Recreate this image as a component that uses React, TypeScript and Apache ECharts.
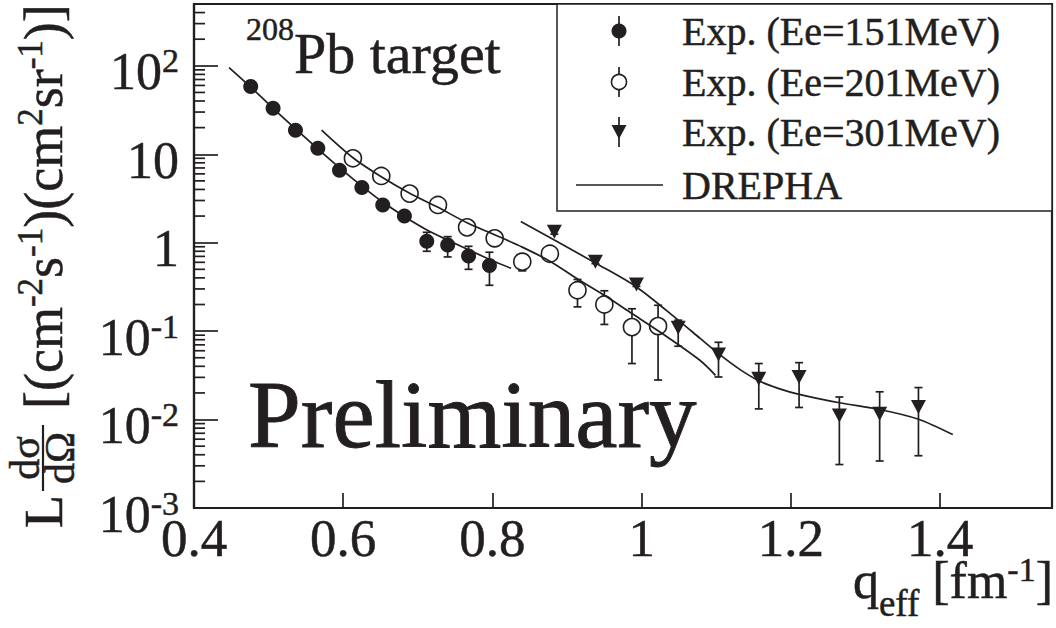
import React, { useEffect, useRef } from 'react';
import * as echarts from 'echarts';

const INK = '#231f20';
const FONT = '"Liberation Serif", "DejaVu Serif", serif';
// text outline used to thicken glyphs (axis labels use ECharts label names, graphics use zrender names)
const BOLDEN = { textBorderColor: INK, textBorderWidth: 0.5 };
const GBOLD = { stroke: INK, lineWidth: 0.5 };

// axes
const X_MIN = 0.4;
const X_MAX = 1.55;
const X_STEP = 0.2;
const Y_MIN = 0.001;
const Y_MAX = 500;
const MINOR_MULT = [2, 3, 4, 5, 6, 7, 8, 9];
const MINOR_DECADES = [0.001, 0.01, 0.1, 1, 10, 100];

// Exp. Ee=151 MeV
const q151 = [0.476, 0.506, 0.536, 0.566, 0.595, 0.625, 0.653, 0.682, 0.712, 0.740, 0.768, 0.796];
const v151 = [58.5, 33.2, 18.7, 11.7, 6.6, 4.2, 2.67, 2.0, 1.04, 0.94, 0.705, 0.553];
const lo151 = [56, 31.8, 17.9, 11.2, 6.3, 4.0, 2.55, 1.9, 0.80, 0.69, 0.50, 0.33];
const hi151 = [61, 34.6, 19.5, 12.2, 6.9, 4.4, 2.8, 2.1, 1.31, 1.17, 0.91, 0.78];

// Exp. Ee=201 MeV
const q201 = [0.613, 0.651, 0.689, 0.727, 0.766, 0.803, 0.840, 0.877, 0.914, 0.950, 0.987, 1.022];
const v201 = [9.0, 5.68, 3.59, 2.67, 1.49, 1.12, 0.61, 0.75, 0.29, 0.20, 0.111, 0.114];
const lo201 = [8.6, 5.4, 3.4, 2.55, 1.42, 1.06, 0.48, 0.66, 0.188, 0.119, 0.043, 0.028];
const hi201 = [9.4, 5.95, 3.75, 2.8, 1.56, 1.18, 0.73, 0.84, 0.384, 0.286, 0.179, 0.196];

// Exp. Ee=301 MeV
const q301 = [0.883, 0.938, 0.993, 1.049, 1.103, 1.157, 1.211, 1.265, 1.319, 1.371];
const v301 = [1.33, 0.61, 0.337, 0.109, 0.0543, 0.029, 0.0303, 0.0111, 0.0116, 0.0139];
const lo301 = [1.25, 0.58, 0.32, 0.0675, 0.0303, 0.0132, 0.0137, 0.0031, 0.0034, 0.0039];
const hi301 = [1.42, 0.65, 0.355, 0.133, 0.0748, 0.043, 0.044, 0.018, 0.0206, 0.023];

// DREPHA calculations
const tq151 = [0.447, 0.476, 0.506, 0.537, 0.566, 0.596, 0.625, 0.653, 0.683, 0.711, 0.742, 0.773, 0.802, 0.825];
const tv151 = [95.5, 57.5, 33.1, 19.1, 11.5, 6.92, 4.37, 2.88, 1.95, 1.41, 1.05, 0.794, 0.617, 0.513];
const tq201 = [0.571, 0.613, 0.651, 0.689, 0.727, 0.766, 0.803, 0.840, 0.877, 0.914, 0.950, 0.987, 1.022, 1.078, 1.099];
const tv201 = [18.7, 9.12, 5.56, 3.63, 2.51, 1.68, 1.23, 0.891, 0.617, 0.389, 0.254, 0.158, 0.101, 0.0468, 0.0316];
const tq301 = [0.838, 0.883, 0.938, 0.993, 1.051, 1.078, 1.103, 1.131, 1.157, 1.184, 1.211, 1.265, 1.319, 1.371, 1.417];
const tv301 = [1.74, 1.07, 0.589, 0.316, 0.129, 0.0832, 0.0556, 0.0372, 0.0275, 0.0224, 0.0193, 0.0155, 0.0130, 0.0101, 0.00676];

const LEGEND = ['Exp. (Ee=151MeV)', 'Exp. (Ee=201MeV)', 'Exp. (Ee=301MeV)', 'DREPHA'];

const pairs = (xs: number[], ys: number[]) => xs.map((x, i) => [x, ys[i]]);

function errSeries(xs: number[], lo: number[], hi: number[]) {
  return {
    type: 'custom',
    silent: true,
    z: 1,
    data: xs.map((x, i) => [x, lo[i], hi[i]]),
    encode: { x: 0, y: [1, 2] },
    renderItem: (_p: any, api: any) => {
      const x = api.value(0);
      const a = api.coord([x, api.value(1)]);
      const b = api.coord([x, api.value(2)]);
      const cw = 4;
      const st = { stroke: INK, lineWidth: 1.7 };
      return {
        type: 'group',
        children: [
          { type: 'line', shape: { x1: a[0], y1: a[1], x2: b[0], y2: b[1] }, style: st },
          { type: 'line', shape: { x1: a[0] - cw, y1: a[1], x2: a[0] + cw, y2: a[1] }, style: st },
          { type: 'line', shape: { x1: b[0] - cw, y1: b[1], x2: b[0] + cw, y2: b[1] }, style: st },
        ],
      };
    },
  };
}

function lineSeries(name: string, xs: number[], ys: number[]) {
  return {
    name,
    type: 'line',
    data: pairs(xs, ys),
    symbol: 'none',
    smooth: 0.3,
    z: 3,
    lineStyle: { color: INK, width: 1.7, opacity: 1 },
  };
}

function legendGraphic() {
  const bx = 557, by = 4, bw = 495, bh = 207;
  const mx = 619, tx = 682;
  const ys = [31, 82, 132, 185];
  const st = { stroke: INK, lineWidth: 1.7 };
  const children: any[] = [
    { type: 'rect', shape: { x: bx, y: by, width: bw, height: bh }, style: { fill: '#fff', stroke: INK, lineWidth: 1.5 } },
  ];
  for (let i = 0; i < 3; i++) {
    children.push({ type: 'line', shape: { x1: mx, y1: ys[i] - 15, x2: mx, y2: ys[i] + 15 }, style: st });
  }
  children.push({ type: 'circle', shape: { cx: mx, cy: ys[0], r: 7.5 }, style: { fill: INK } });
  children.push({ type: 'circle', shape: { cx: mx, cy: ys[1], r: 7.5 }, style: { fill: '#fff', stroke: INK, lineWidth: 1.6 } });
  children.push({ type: 'polygon', shape: { points: [[mx - 7.5, ys[2] - 7], [mx + 7.5, ys[2] - 7], [mx, ys[2] + 7]] }, style: { fill: INK } });
  children.push({ type: 'line', shape: { x1: 576, y1: ys[3], x2: 663, y2: ys[3] }, style: st });
  LEGEND.forEach((t, i) => {
    children.push({
      type: 'text',
      style: { text: t, x: tx, y: ys[i], fontSize: 40, fontFamily: FONT, fill: INK, align: 'left', verticalAlign: 'middle', ...GBOLD },
    });
  });
  return { type: 'group', z: 10, children };
}

function yTitleGraphic() {
  const X0 = 62;
  const Y0 = 528;
  const fs = 54;
  const ff = 42;
  const mid = (size: number, base: number) => base - 0.3375 * size;
  return {
    type: 'group',
    x: X0,
    y: Y0,
    rotation: Math.PI / 2,
    z: 10,
    children: [
      { type: 'text', style: { text: 'L', x: 0, y: mid(fs, 0), fontSize: fs, fontFamily: FONT, fill: INK, align: 'left', verticalAlign: 'middle', ...GBOLD } },
      { type: 'text', style: { text: 'dσ', x: 70, y: mid(ff, -23), fontSize: ff, fontFamily: FONT, fill: INK, align: 'center', verticalAlign: 'middle', ...GBOLD } },
      { type: 'line', shape: { x1: 37, y1: -19, x2: 103, y2: -19 }, style: { stroke: INK, lineWidth: 2.2 } },
      { type: 'text', style: { text: 'dΩ', x: 70, y: mid(ff, 12), fontSize: ff, fontFamily: FONT, fill: INK, align: 'center', verticalAlign: 'middle', ...GBOLD } },
      {
        type: 'text',
        style: {
          text: '{b|[(cm}{s|-2}{b|s}{s|-1}{b|)(cm}{s|2}{b|sr}{s|-1}{b|)]}',
          x: 119,
          y: mid(fs, 0),
          align: 'left',
          verticalAlign: 'middle',
          fill: INK,
          rich: {
            b: { fontSize: fs, fontFamily: FONT, fill: INK, lineHeight: 62, ...GBOLD },
            s: { fontSize: 35, fontFamily: FONT, fill: INK, verticalAlign: 'top', lineHeight: 62, ...GBOLD },
          },
        },
      },
    ],
  };
}

export default function App() {
  const ref = useRef<HTMLDivElement>(null);
  useEffect(() => {
    if (!ref.current) return;
    const chart = echarts.init(ref.current, null, { renderer: 'svg' });
    const minorTicks = MINOR_DECADES.flatMap((d) => MINOR_MULT.map((m) => m * d)).filter((v) => v < Y_MAX);
    const option: any = {
      animation: false,
      backgroundColor: '#fff',
      grid: { left: 194, right: 4, top: 4, bottom: 120, show: true, borderColor: INK, borderWidth: 2.2, backgroundColor: 'transparent' },
      xAxis: {
        type: 'value',
        min: X_MIN,
        max: X_MAX,
        interval: X_STEP,
        axisLine: { onZero: false, lineStyle: { color: INK, width: 2.2 } },
        axisTick: { inside: true, length: 15, lineStyle: { color: INK, width: 1.7 } },
        splitLine: { show: false },
        axisLabel: {
          margin: 3,
          fontSize: 53,
          fontFamily: FONT,
          color: INK,
          ...BOLDEN,
          formatter: (v: number) => (v > X_MAX - 1e-6 ? '' : String(Math.round(v * 10) / 10)),
        },
      },
      yAxis: {
        type: 'log',
        logBase: 10,
        min: Y_MIN,
        max: Y_MAX,
        axisLine: { lineStyle: { color: INK, width: 2.2 } },
        axisTick: { inside: true, length: 24, lineStyle: { color: INK, width: 1.7 } },
        splitLine: { show: false },
        axisLabel: {
          margin: 15,
          padding: [12, 0, 0, 0],
          formatter: (v: number) => {
            const l = Math.log10(v);
            const e = Math.round(l);
            if (Math.abs(l - e) > 1e-6) return '';
            if (e === 0) return '{b|1}';
            if (e === 1) return '{b|10}';
            return `{b|10}{s|${e}}`;
          },
          rich: {
            b: { fontSize: 52, fontFamily: FONT, color: INK, lineHeight: 56, ...BOLDEN },
            s: { fontSize: 34, fontFamily: FONT, color: INK, verticalAlign: 'top', lineHeight: 56, ...BOLDEN },
          },
        },
      },
      series: [
        {
          type: 'custom',
          silent: true,
          z: 1,
          data: minorTicks.map((v) => [X_MIN, v]),
          renderItem: (_p: any, api: any) => {
            const p = api.coord([api.value(0), api.value(1)]);
            return { type: 'line', shape: { x1: p[0], y1: p[1], x2: p[0] + 11, y2: p[1] }, style: { stroke: INK, lineWidth: 1.7 } };
          },
        },
        errSeries(q151, lo151, hi151),
        errSeries(q201, lo201, hi201),
        errSeries(q301, lo301, hi301),
        {
          name: LEGEND[0], type: 'scatter', data: pairs(q151, v151), symbol: 'circle', symbolSize: 15, z: 2,
          itemStyle: { color: INK, opacity: 1 },
        },
        {
          name: LEGEND[1], type: 'scatter', data: pairs(q201, v201), symbol: 'circle', symbolSize: 17, z: 2,
          itemStyle: { color: '#fff', borderColor: INK, borderWidth: 1.6, opacity: 1 },
        },
        {
          name: LEGEND[2], type: 'scatter', data: pairs(q301, v301), symbol: 'triangle', symbolRotate: 180, symbolSize: [15, 14], z: 2,
          itemStyle: { color: INK, opacity: 1 },
        },
        lineSeries(LEGEND[3], tq151, tv151),
        lineSeries(LEGEND[3], tq201, tv201),
        lineSeries(LEGEND[3], tq301, tv301),
      ],
      graphic: [
        legendGraphic(),
        yTitleGraphic(),
        {
          type: 'text',
          z: 10,
          style: {
            text: '{s|208}{b|Pb target}',
            x: 246,
            y: 73 - 0.3375 * 58,
            align: 'left',
            verticalAlign: 'middle',
            rich: {
              b: { fontSize: 58, fontFamily: FONT, fill: INK, lineHeight: 80, ...GBOLD },
              s: { fontSize: 32, fontFamily: FONT, fill: INK, verticalAlign: 'top', lineHeight: 80, ...GBOLD },
            },
          },
        },
        {
          type: 'text',
          z: 10,
          style: {
            text: 'Preliminary', x: 248, y: 447 - 0.3375 * 95, fontSize: 95, fontFamily: FONT, fill: INK,
            align: 'left', verticalAlign: 'middle', stroke: INK, lineWidth: 0.9,
          },
        },
        {
          type: 'text',
          z: 10,
          style: {
            text: '{b|q}{u|eff}{b| [fm}{s|-1}{b|]}',
            x: 1053,
            y: 598 - 0.3375 * 52,
            align: 'right',
            verticalAlign: 'middle',
            rich: {
              b: { fontSize: 52, fontFamily: FONT, fill: INK, lineHeight: 56, ...GBOLD },
              u: { fontSize: 37, fontFamily: FONT, fill: INK, verticalAlign: 'bottom', lineHeight: 56, padding: [0, 0, -14, 0], ...GBOLD },
              s: { fontSize: 34, fontFamily: FONT, fill: INK, verticalAlign: 'top', lineHeight: 56, ...GBOLD },
            },
          },
        },
      ],
    };
    chart.setOption(option);
    return () => chart.dispose();
  }, []);
  return <div ref={ref} style={{ position: 'fixed', left: 0, top: 0, width: 1056, height: 628, background: '#fff' }} />;
}
